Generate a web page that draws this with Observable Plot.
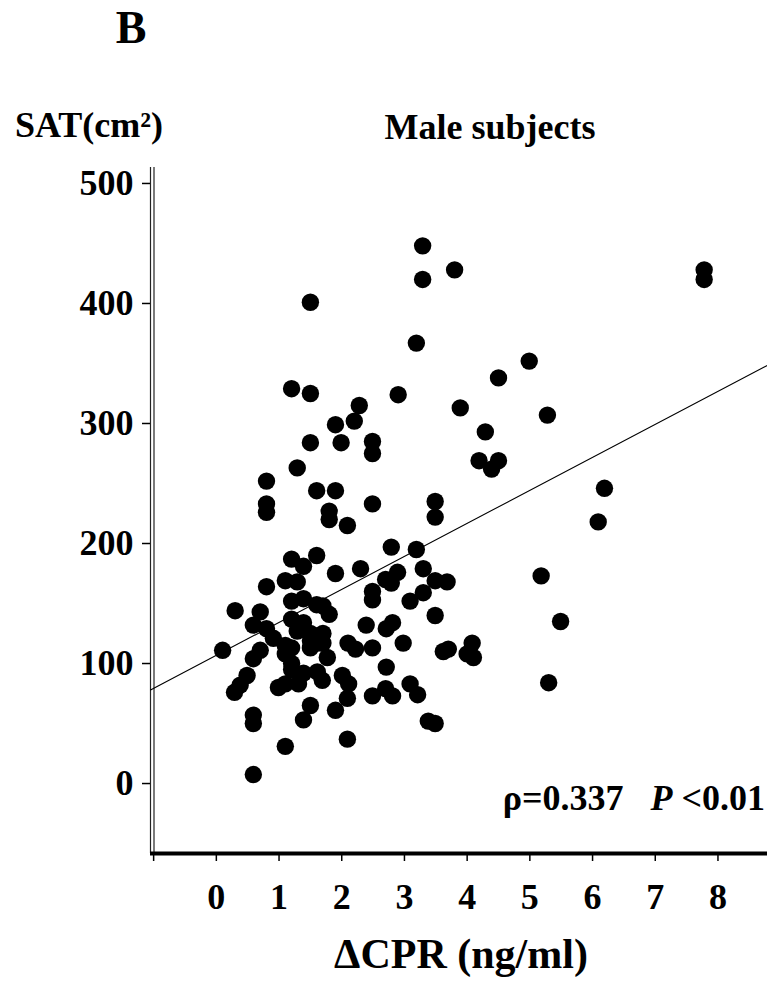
<!DOCTYPE html>
<html>
<head>
<meta charset="utf-8">
<script src="https://cdn.jsdelivr.net/npm/d3@7"></script>
<script src="https://cdn.jsdelivr.net/npm/@observablehq/plot@0.6"></script>
<style>
  html, body { margin: 0; padding: 0; background: #fff; }
  #chart { width: 767px; height: 988px; }
</style>
</head>
<body>
<div id="chart"></div>
<script>
// ΔCPR (ng/ml) per subject
const deltaCPR = [
  3.29, 3.29, 3.80, 7.78, 7.78, 1.50, 3.19, 4.99, 4.50, 1.20,
  1.50, 2.90, 2.28, 3.89, 5.28, 2.20, 1.90, 4.29, 1.50, 1.99,
  2.49, 2.49, 4.19, 4.50, 4.39, 1.29, 0.80, 1.60, 1.90, 6.19,
  0.80, 0.80, 2.49, 1.80, 1.80, 2.09, 3.49, 3.49, 6.09, 2.79,
  3.19, 1.20, 1.60, 1.39, 1.90, 2.30, 3.30, 0.80, 1.10, 1.29,
  2.70, 2.89, 2.79, 3.49, 3.68, 2.49, 2.49, 3.30, 3.09, 5.18,
  1.20, 1.39, 1.60, 1.70, 1.80, 0.30, 0.70, 3.49, 1.20, 0.59,
  0.80, 0.91, 1.39, 1.29, 1.50, 1.70, 1.61, 2.39, 2.71, 2.81,
  5.49, 0.10, 0.70, 0.59, 1.10, 1.20, 1.10, 1.20, 1.20, 1.50,
  1.50, 1.70, 1.77, 2.10, 2.22, 2.49, 2.98, 3.62, 3.70, 4.08,
  4.00, 4.10, 2.71, 0.49, 0.38, 0.29, 0.99, 1.10, 1.31, 1.39,
  1.61, 1.69, 2.01, 2.11, 2.09, 2.49, 2.70, 2.81, 3.09, 3.21,
  5.30, 1.50, 1.39, 1.90, 0.59, 0.59, 3.38, 3.49, 1.10, 2.09,
  0.59
];
// SAT (cm²) per subject
const sat = [
  448, 420, 428, 428, 420, 401, 367, 352, 338, 329,
  325, 324, 315, 313, 307, 302, 299, 293, 284, 284,
  285, 275, 269, 269, 262, 263, 252, 244, 244, 246,
  233, 226, 233, 227, 220, 215, 235, 222, 218, 197,
  195, 187, 190, 181, 175, 179, 179, 164, 169, 168,
  170, 176, 167, 169, 168, 160, 153, 159, 152, 173,
  152, 154, 149, 148, 141, 144, 143, 140, 137, 132,
  129, 121, 134, 127, 125, 125, 117, 132, 129, 134,
  135, 111, 111, 104, 115, 113, 108, 100, 95, 113,
  119, 117, 105, 117, 112, 113, 117, 110, 112, 117,
  108, 105, 97, 90, 82, 76, 80, 83, 83, 92,
  93, 86, 90, 83, 71, 73, 79, 73, 83, 74,
  84, 65, 53, 61, 57, 50, 52, 50, 31, 37,
  7.5
];
const xTicks = [-1, 0, 1, 2, 3, 4, 5, 6, 7, 8];
const yTicks = [0, 100, 200, 300, 400, 500];
const xDomain = [-1.05, 8.79];
const yDomain = [-58.3, 513.3];
// fitted regression line: SAT = intercept + slope * ΔCPR
const fitIntercept = 106.8;
const fitSlope = 27.5;

const panelLabel = "B";
const yTitle = "SAT(cm²)";
const chartTitle = "Male subjects";
const xTitle = "ΔCPR (ng/ml)";
const statRho = "ρ=0.337";
const statP = "P";
const statPval = " <0.01";

const data = deltaCPR.map((x, i) => ({x, y: sat[i]}));
const fitLine = xDomain.map(x => ({x, y: fitIntercept + fitSlope * x}));

const FONT = "'Liberation Serif', 'Times New Roman', Times, serif";

const chart = Plot.plot({
  width: 767,
  height: 988,
  marginLeft: 150,
  marginRight: 0,
  marginTop: 167,
  marginBottom: 135,
  style: {fontFamily: FONT, fontWeight: "bold", background: "#fff", color: "#000"},
  x: {domain: xDomain},
  y: {domain: yDomain},
  marks: [
    Plot.ruleX([xDomain[0]], {stroke: "#222", strokeWidth: 1.2}),
    Plot.ruleX([xDomain[0]], {stroke: "#222", strokeWidth: 1.2, dx: 3.5}),
    Plot.line(fitLine, {x: "x", y: "y", stroke: "#000", strokeWidth: 1.1}),
    Plot.dot(data, {x: "x", y: "y", r: 8.7, fill: "#000", stroke: "none"}),
    Plot.ruleY([yDomain[0]], {stroke: "#000", strokeWidth: 4}),
    Plot.axisX({
      ticks: xTicks, tickSize: 8, tickPadding: 22, label: null,
      tickFormat: d => (d < 0 ? "" : String(d)),
      fontSize: 36, fontWeight: "bold", strokeWidth: 1.5
    }),
    Plot.axisY({
      ticks: yTicks, tickSize: 8, tickPadding: 9, label: null,
      tickFormat: d => String(d),
      fontSize: 36, fontWeight: "bold", strokeWidth: 1.5
    })
  ]
});

document.getElementById("chart").appendChild(chart);

const svg = d3.select(chart);
const addText = (x, y, size, anchor, txt) =>
  svg.append("text")
    .attr("x", x).attr("y", y)
    .attr("font-family", FONT).attr("font-weight", "bold")
    .attr("font-size", size).attr("text-anchor", anchor)
    .attr("fill", "#000").text(txt);

addText(131, 43, 46, "middle", panelLabel);
addText(15, 137, 36, "start", yTitle);
addText(490, 139, 36, "middle", chartTitle);
addText(461, 968, 42, "middle", xTitle);

const stat = svg.append("text")
  .attr("x", 765).attr("y", 810)
  .attr("font-family", FONT).attr("font-weight", "bold")
  .attr("font-size", 36).attr("text-anchor", "end").attr("fill", "#000");
stat.append("tspan").text(statRho + "\u00a0\u00a0\u00a0");
stat.append("tspan").attr("font-style", "italic").text(statP);
stat.append("tspan").text(statPval);
</script>
</body>
</html>
